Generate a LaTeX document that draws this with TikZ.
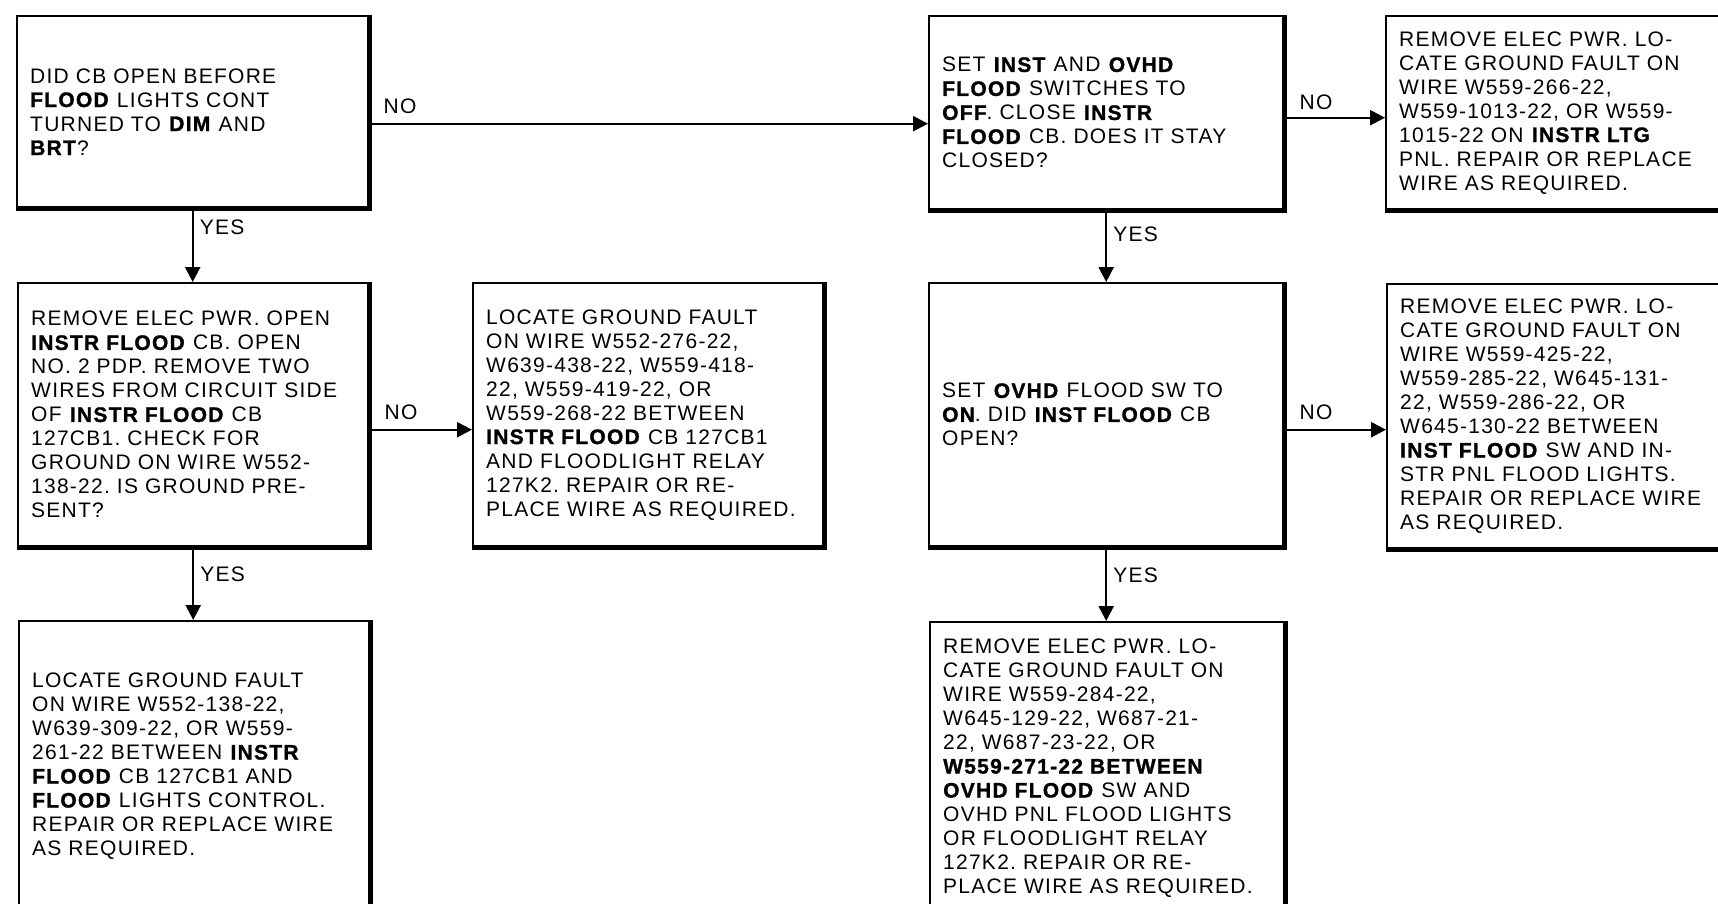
\documentclass[tikz,border=0pt]{standalone}
\usepackage{fontspec}
\setmainfont{Liberation Sans}[LetterSpace=6,BoldFeatures={FakeBold=1.2}]
\usetikzlibrary{arrows.meta,calc}
\frenchspacing
\begin{document}
\begin{tikzpicture}[x=1pt,y=-1pt,
  fcbox/.style={draw,line width=2.4pt,rectangle,anchor=north west,align=left,
    inner xsep=13pt,inner ysep=0pt,font=\fontsize{21}{24}\selectfont},
  arr/.style={line width=2.4pt,-{Triangle[length=15pt,width=15pt]}},
  lbl/.style={inner sep=0pt,font=\fontsize{21}{24}\selectfont}]
\useasboundingbox (0,0) rectangle (1718,903);
\clip (0,0) rectangle (1718,903);
\node[fcbox,minimum width=351pt,minimum height=191pt,text width=325pt] (b1) at (16,15)
 {DID CB OPEN BEFORE\\ \textbf{FLOOD} LIGHTS CONT\\ TURNED TO \textbf{DIM} AND\\ \textbf{BRT}?};
\node[fcbox,minimum width=354pt,minimum height=193pt,text width=328pt] (b2) at (928,15)
 {SET \textbf{INST} AND \textbf{OVHD}\\ \textbf{FLOOD} SWITCHES TO\\ \textbf{OFF}. CLOSE \textbf{INSTR}\\ \textbf{FLOOD} CB. DOES IT STAY\\ CLOSED?};
\node[fcbox,minimum width=354pt,minimum height=193pt,text width=328pt] (b3) at (1385,15)
 {REMOVE ELEC PWR. LO-\\ CATE GROUND FAULT ON\\ WIRE W559-266-22,\\ W559-1013-22, OR W559-\\ 1015-22 ON \textbf{INSTR LTG}\\ PNL. REPAIR OR REPLACE\\ WIRE AS REQUIRED.};
\node[fcbox,minimum width=350pt,minimum height=263pt,text width=324pt] (b4) at (17,282)
 {REMOVE ELEC PWR. OPEN\\ \textbf{INSTR FLOOD} CB. OPEN\\ NO. 2 PDP. REMOVE TWO\\ WIRES FROM CIRCUIT SIDE\\ OF \textbf{INSTR FLOOD} CB\\ 127CB1. CHECK FOR\\ GROUND ON WIRE W552-\\ 138-22. IS GROUND PRE-\\ SENT?};
\node[fcbox,minimum width=350pt,minimum height=263pt,text width=324pt] (b5) at (472,282)
 {LOCATE GROUND FAULT\\ ON WIRE W552-276-22,\\ W639-438-22, W559-418-\\ 22, W559-419-22, OR\\ W559-268-22 BETWEEN\\ \textbf{INSTR FLOOD} CB 127CB1\\ AND FLOODLIGHT RELAY\\ 127K2. REPAIR OR RE-\\ PLACE WIRE AS REQUIRED.};
\node[fcbox,minimum width=350pt,minimum height=290pt,text width=324pt] (b6) at (18,620)
 {LOCATE GROUND FAULT\\ ON WIRE W552-138-22,\\ W639-309-22, OR W559-\\ 261-22 BETWEEN \textbf{INSTR}\\ \textbf{FLOOD} CB 127CB1 AND\\ \textbf{FLOOD} LIGHTS CONTROL.\\ REPAIR OR REPLACE WIRE\\ AS REQUIRED.};
\node[fcbox,minimum width=354pt,minimum height=263pt,text width=328pt] (b7) at (928,282)
 {SET \textbf{OVHD} FLOOD SW TO\\ \textbf{ON}. DID \textbf{INST FLOOD} CB\\ OPEN?};
\node[fcbox,minimum width=354pt,minimum height=264pt,text width=328pt] (b8) at (1386,283)
 {REMOVE ELEC PWR. LO-\\ CATE GROUND FAULT ON\\ WIRE W559-425-22,\\ W559-285-22, W645-131-\\ 22, W559-286-22, OR\\ W645-130-22 BETWEEN\\ \textbf{INST FLOOD} SW AND IN-\\ STR PNL FLOOD LIGHTS.\\ REPAIR OR REPLACE WIRE\\ AS REQUIRED.};
\node[fcbox,minimum width=354pt,minimum height=292pt,text width=328pt] (b9) at (929,621)
 {REMOVE ELEC PWR. LO-\\ CATE GROUND FAULT ON\\ WIRE W559-284-22,\\ W645-129-22, W687-21-\\ 22, W687-23-22, OR\\ \textbf{W559-271-22 BETWEEN}\\ \textbf{OVHD FLOOD} SW AND\\ OVHD PNL FLOOD LIGHTS\\ OR FLOODLIGHT RELAY\\ 127K2. REPAIR OR RE-\\ PLACE WIRE AS REQUIRED.};
% heavy right and bottom edges
\foreach \n in {b1,b2,b3,b4,b5,b6,b7,b8,b9}
  \draw[line width=5pt] (\n.north east) -- (\n.south east) -- (\n.south west);
% connectors
\draw[arr] ([yshift=-12pt]b1.east) -- ([yshift=-12pt]b1.east -| b2.west)
  node[lbl,pos=0,anchor=south west,xshift=13pt,yshift=9pt] {NO};
\draw[arr] ([yshift=-5pt]b2.east) -- ([yshift=-5pt]b2.east -| b3.west)
  node[lbl,pos=0,anchor=south west,xshift=14pt,yshift=7pt] {NO};
\draw[arr] (b1.south) -- (b1.south |- b4.north)
  node[lbl,pos=0,anchor=north west,xshift=6pt,yshift=-10pt] {YES};
\draw[arr] ([yshift=-15pt]b4.east) -- ([yshift=-15pt]b4.east -| b5.west)
  node[lbl,pos=0,anchor=south west,xshift=14pt,yshift=9pt] {NO};
\draw[arr] (b4.south) -- (b4.south |- b6.north)
  node[lbl,pos=0,anchor=north west,xshift=6pt,yshift=-18pt] {YES};
\draw[arr] (b2.south) -- (b2.south |- b7.north)
  node[lbl,pos=0,anchor=north west,xshift=6pt,yshift=-15pt] {YES};
\draw[arr] ([yshift=-15pt]b7.east) -- ([yshift=-15pt]b7.east -| b8.west)
  node[lbl,pos=0,anchor=south west,xshift=14pt,yshift=9pt] {NO};
\draw[arr] (b7.south) -- (b7.south |- b9.north)
  node[lbl,pos=0,anchor=north west,xshift=6pt,yshift=-19pt] {YES};
\end{tikzpicture}
\end{document}
